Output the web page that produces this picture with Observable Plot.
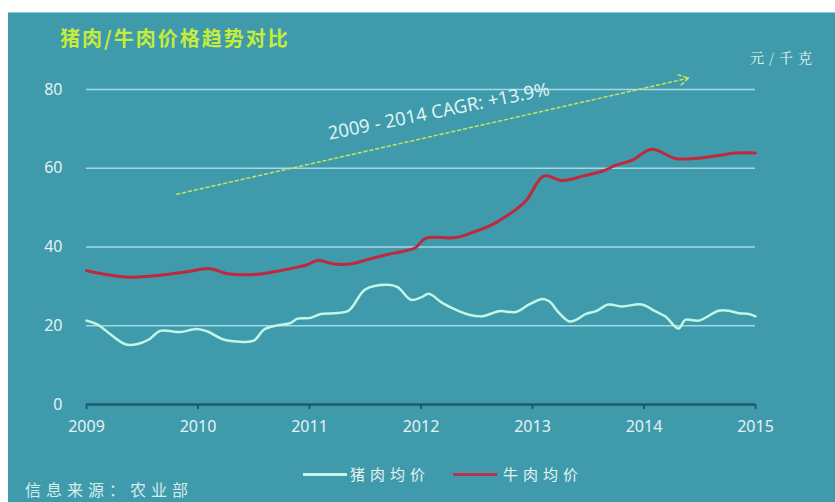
<!DOCTYPE html>
<html>
<head>
<meta charset="utf-8">
<script src="https://cdn.jsdelivr.net/npm/d3@7"></script>
<script src="https://cdn.jsdelivr.net/npm/@observablehq/plot@0.6"></script>
<style>
  body { margin: 0; background: #ffffff; }
  #wrap { position: relative; width: 835px; height: 502px; overflow: hidden; background: #fff; }
  #panel { position: absolute; left: 8px; top: 13px; width: 827px; height: 489px; background: #3f9bab; }
  #topline { position: absolute; left: 8px; top: 12px; width: 827px; height: 2px; background: #7fd3e2; }
  #chart { position: absolute; left: 0; top: 0; }
  .t { position: absolute; white-space: nowrap; font-family: "Noto Sans CJK SC", "Noto Sans", sans-serif; }
  #title { left: 52px; top: 10px; font-size: 20px; letter-spacing: 2px; color: #c6ec3a; font-weight: bold; }
  #unit { left: 742px; top: 34px; font-size: 14px; letter-spacing: 5px; color: #e6f3f2; font-family: "Noto Serif CJK SC", "Noto Sans CJK SC", serif; }
  .legline { position: absolute; height: 3px; }
  #leg1line { left: 295px; top: 460px; width: 44px; background: #c4f6e6; }
  #leg2line { left: 445px; top: 460px; width: 44px; background: #b8344a; }
  #leg1 { left: 342px; top: 450px; font-size: 15px; letter-spacing: 5px; color: #e6f3f2; }
  #leg2 { left: 495px; top: 450px; font-size: 15px; letter-spacing: 5px; color: #e6f3f2; }
  #source { left: 17px; top: 464px; font-size: 16px; letter-spacing: 5px; color: #d4ecee; }
</style>
</head>
<body>
<div id="wrap">
  <div id="topline"></div>
  <div id="panel">
    <div id="chart"></div>
    <div class="t" id="title">猪肉/牛肉价格趋势对比</div>
    <div class="t" id="unit">元/千克</div>
    <div class="legline" id="leg1line"></div>
    <div class="t" id="leg1">猪肉均价</div>
    <div class="legline" id="leg2line"></div>
    <div class="t" id="leg2">牛肉均价</div>
    <div class="t" id="source">信息来源：农业部</div>
  </div>
</div>
<script>
// ---- data (time as fractional year, value in 元/千克) ----
const porkT = [2009.00,2009.10,2009.22,2009.35,2009.45,2009.56,2009.66,2009.84,2009.99,2010.08,2010.23,2010.35,2010.50,2010.59,2010.71,2010.83,2010.89,2011.01,2011.10,2011.22,2011.35,2011.50,2011.70,2011.79,2011.91,2012.00,2012.07,2012.19,2012.34,2012.43,2012.55,2012.70,2012.85,2012.97,2013.09,2013.15,2013.24,2013.33,2013.39,2013.48,2013.57,2013.68,2013.80,2013.98,2014.10,2014.19,2014.31,2014.37,2014.49,2014.67,2014.76,2014.85,2014.94,2015.00];
const porkV = [21.3,20.3,17.7,15.3,15.3,16.5,18.7,18.4,19.2,18.6,16.5,16.0,16.2,19.0,20.1,20.7,21.8,22.0,23.0,23.2,23.8,29.2,30.4,29.8,26.6,27.2,28.1,25.8,23.7,22.8,22.4,23.7,23.5,25.4,26.8,26.2,23.2,21.1,21.5,23.0,23.7,25.4,24.9,25.4,23.7,22.4,19.3,21.5,21.3,23.8,23.8,23.2,23.0,22.4];
const beefT = [2009.00,2009.10,2009.28,2009.42,2009.57,2009.72,2009.90,2010.11,2010.26,2010.50,2010.68,2010.86,2010.98,2011.07,2011.22,2011.37,2011.52,2011.70,2011.82,2011.95,2012.04,2012.31,2012.49,2012.64,2012.79,2012.94,2013.10,2013.27,2013.45,2013.65,2013.74,2013.89,2014.07,2014.28,2014.46,2014.64,2014.82,2015.00];
const beefV = [34.0,33.4,32.6,32.3,32.6,33.0,33.7,34.5,33.2,33.0,33.7,34.7,35.5,36.6,35.7,35.7,36.8,38.1,38.8,39.8,42.2,42.4,44.0,45.7,48.3,51.7,58.0,56.9,58.0,59.5,60.7,62.0,64.8,62.5,62.5,63.1,63.9,63.9];
const xTicks = [2009, 2010, 2011, 2012, 2013, 2014, 2015];
const yTicks = [0, 20, 40, 60, 80];
const gridValues = [20, 40, 60, 80];
// trend annotation (data units)
const trendX = [2009.81, 2014.40];
const trendY = [53.4, 82.9];
const cagrLabel = ["2009 - 2014 CAGR: +13.9%"];
const cagrX = [2012.16];
const cagrY = [74.4];

const pork = porkT.map((t, i) => ({t, v: porkV[i]}));
const beef = beefT.map((t, i) => ({t, v: beefV[i]}));
const trend = [{x1: trendX[0], y1: trendY[0], x2: trendX[1], y2: trendY[1]}];
const cagr = cagrLabel.map((s, i) => ({s, x: cagrX[i], y: cagrY[i]}));

const chart = Plot.plot({
  width: 827,
  height: 489,
  marginLeft: 78,
  marginRight: 80,
  marginTop: 76,
  marginBottom: 98,
  style: {background: "transparent", fontFamily: "'Noto Sans', 'Open Sans', sans-serif", fontSize: "16px", overflow: "visible"},
  x: {domain: [2009, 2015]},
  y: {domain: [0, 80]},
  marks: [
    Plot.ruleY(gridValues, {stroke: "#a3d9e3", strokeWidth: 1.6}),
    Plot.axisY({ticks: yTicks, tickSize: 0, tickPadding: 24, fill: "#e4f2f2", label: null, fontSize: 16, style: {letterSpacing: "1px"}}),
    Plot.axisX({ticks: xTicks, tickFormat: d => String(d), tickSize: 5, tickPadding: 11, stroke: "#1f5b68", strokeWidth: 2, fill: "#e4f2f2", label: null, fontSize: 16}),
    Plot.ruleY([0], {stroke: "#1f5b68", strokeWidth: 2.5}),
    Plot.arrow(trend, {x1: "x1", y1: "y1", x2: "x2", y2: "y2", stroke: "#c3e460", strokeWidth: 1.5, strokeDasharray: "3,3", headLength: 11}),
    Plot.text(cagr, {x: "x", y: "y", text: "s", rotate: -11.5, fill: "#dff2f2", fontSize: 18.5}),
    Plot.line(pork, {x: "t", y: "v", stroke: "#c2f6e6", strokeWidth: 2.5, curve: "catmull-rom"}),
    Plot.line(beef, {x: "t", y: "v", stroke: "#c1283c", strokeWidth: 3, curve: "catmull-rom"})
  ]
});
document.getElementById("chart").appendChild(chart);
</script>
</body>
</html>
